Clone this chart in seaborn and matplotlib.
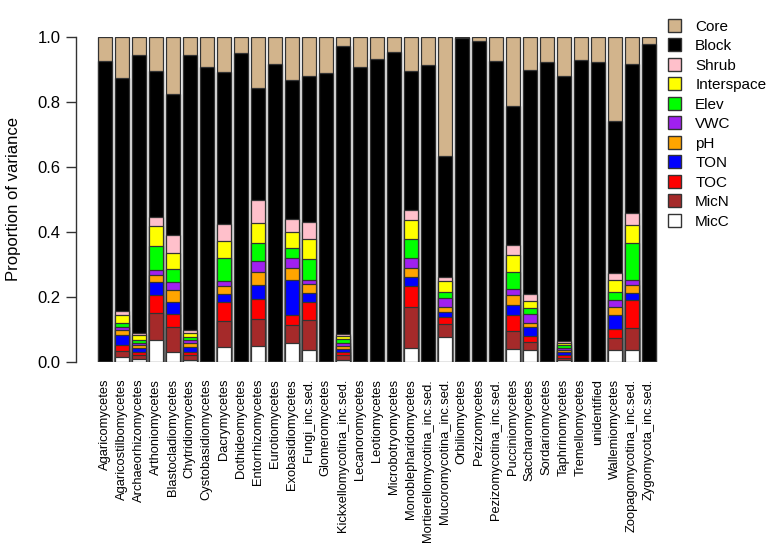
import pandas as pd
import numpy as np
import matplotlib
matplotlib.use("Agg")
import matplotlib.pyplot as plt
import seaborn as sns
from matplotlib.patches import Patch

taxa = ["Agaricomycetes", "Agaricostilbomycetes", "Archaeorhizomycetes", "Arthoniomycetes",
        "Blastocladiomycetes", "Chytridiomycetes", "Cystobasidiomycetes", "Dacrymycetes",
        "Dothideomycetes", "Entorrhizomycetes", "Eurotiomycetes", "Exobasidiomycetes",
        "Fungi_inc.sed.", "Glomeromycetes", "Kickxellomycotina_inc.sed.", "Lecanoromycetes",
        "Leotiomycetes", "Microbotryomycetes", "Monoblepharidomycetes", "Mortierellomycotina_inc.sed.",
        "Mucoromycotina_inc.sed.", "Orbiliomycetes", "Pezizomycetes", "Pezizomycotina_inc.sed.",
        "Pucciniomycetes", "Saccharomycetes", "Sordariomycetes", "Taphrinomycetes",
        "Tremellomycetes", "unidentified", "Wallemiomycetes", "Zoopagomycotina_inc.sed.",
        "Zygomycota_inc.sed."]

# variance components, bottom to top
MicC = [0, .016, .010, .068, .032, .008, 0, .046, 0, .050, 0, .060, .037, 0, .007, 0, 0, 0,
        .042, 0, .077, 0, 0, 0, .039, .037, 0, .007, 0, 0, .037, .037, 0]
MicN = [0, .017, .011, .083, .075, .014, 0, .079, 0, .082, 0, .055, .094, 0, .014, 0, 0, 0,
        .129, 0, .041, 0, 0, 0, .056, .024, 0, .007, 0, 0, .038, .067, 0]
TOC = [0, .019, .011, .054, .042, .010, 0, .060, 0, .061, 0, .031, .055, 0, .009, 0, 0, 0,
       .063, 0, .022, 0, 0, 0, .049, .020, 0, .009, 0, 0, .028, .086, 0]
TON = [0, .031, .011, .040, .036, .016, 0, .025, 0, .044, 0, .108, .026, 0, .009, 0, 0, 0,
       .029, 0, .015, 0, 0, 0, .031, .026, 0, .008, 0, 0, .042, .023, 0]
pH = [0, .015, .009, .024, .038, .012, 0, .025, 0, .040, 0, .036, .028, 0, .010, 0, 0, 0,
      .025, 0, .013, 0, 0, 0, .030, .014, 0, .007, 0, 0, .024, .024, 0]
VWC = [0, .010, .008, .014, .023, .009, 0, .013, 0, .035, 0, .031, .013, 0, .009, 0, 0, 0,
       .031, 0, .030, 0, 0, 0, .019, .026, 0, .007, 0, 0, .021, .017, 0]
Elev = [0, .013, .009, .075, .040, .009, 0, .073, 0, .055, 0, .029, .064, 0, .013, 0, 0, 0,
        .060, 0, .017, 0, 0, 0, .052, .019, 0, .008, 0, 0, .026, .111, 0]
Interspace = [0, .024, .013, .060, .048, .011, 0, .050, 0, .060, 0, .050, .063, 0, .009, 0, 0, 0,
              .057, 0, .034, 0, 0, 0, .052, .023, 0, .006, 0, 0, .038, .058, 0]
Shrub = [0, .012, .008, .028, .057, .009, 0, .053, 0, .072, 0, .041, .052, 0, .008, 0, 0, 0,
         .032, 0, .013, 0, 0, 0, .031, .022, 0, .006, 0, 0, .020, .034, 0]
Block = [.927, .715, .853, .449, .434, .845, .907, .469, .949, .343, .917, .426, .447, .890,
         .884, .906, .933, .954, .427, .912, .371, .996, .988, .927, .427, .687, .923, .816,
         .928, .922, .468, .460, .979]
Core = [.073, .128, .057, .105, .175, .057, .093, .107, .051, .158, .083, .133, .121, .110,
        .028, .094, .067, .046, .105, .088, .367, .004, .012, .073, .214, .102, .077, .119,
        .072, .078, .258, .083, .021]

components = ["MicC", "MicN", "TOC", "TON", "pH", "VWC", "Elev", "Interspace", "Shrub", "Block", "Core"]
colours = ["white", "#A52A2A", "#FF0000", "#0000FF", "#FFA500", "#A020F0", "#00FF00",
           "#FFFF00", "#FFC0CB", "black", "#D2B48C"]

df = pd.DataFrame({"MicC": MicC, "MicN": MicN, "TOC": TOC, "TON": TON, "pH": pH, "VWC": VWC,
                   "Elev": Elev, "Interspace": Interspace, "Shrub": Shrub, "Block": Block,
                   "Core": Core}, index=taxa)
cum = df[components].cumsum(axis=1)

sns.set_style("white")
plt.rcParams["font.family"] = ["Liberation Sans", "DejaVu Sans"]
plt.rcParams["text.color"] = "black"
plt.rcParams["axes.labelcolor"] = "black"
plt.rcParams["xtick.color"] = "black"
plt.rcParams["ytick.color"] = "black"

fig = plt.figure(figsize=(7.72, 5.58), dpi=100)
ax = fig.add_axes([0.0984, 0.351, 0.779, 0.583])

# overlay cumulative bars from the top down so each layer shows as a stacked segment
for comp, col in zip(components[::-1], colours[::-1]):
    sns.barplot(x=cum.index, y=cum[comp].values, color=col, saturation=1, width=0.83,
                edgecolor="#333333", linewidth=0.9, errorbar=None, ax=ax)

ax.set_xlim(-1.69, 33.69)
ax.set_ylim(0, 1)
ax.set_yticks([0, 0.2, 0.4, 0.6, 0.8, 1.0])
ax.set_yticklabels(["0.0", "0.2", "0.4", "0.6", "0.8", "1.0"])
ax.tick_params(axis="y", length=7, width=1, color="#333333", labelsize=12, pad=4, left=True)
ax.tick_params(axis="x", length=0, labelsize=9.3, pad=12, rotation=90)
ax.set_xlabel("")
ax.set_ylabel("Proportion of variance", fontsize=12, labelpad=12)
sns.despine(ax=ax, bottom=True)
ax.spines["left"].set_color("#333333")
ax.spines["left"].set_linewidth(1)

handles = [Patch(facecolor=c, edgecolor="#333333", label=n)
           for n, c in zip(components[::-1], colours[::-1])]
fig.legend(handles=handles, loc="upper left", bbox_to_anchor=(0.857, 0.977), frameon=False,
           fontsize=11, handlelength=0.9, handleheight=0.9, labelspacing=0.32,
           handletextpad=0.9, borderaxespad=0)

fig.savefig("out.png", dpi=100)
